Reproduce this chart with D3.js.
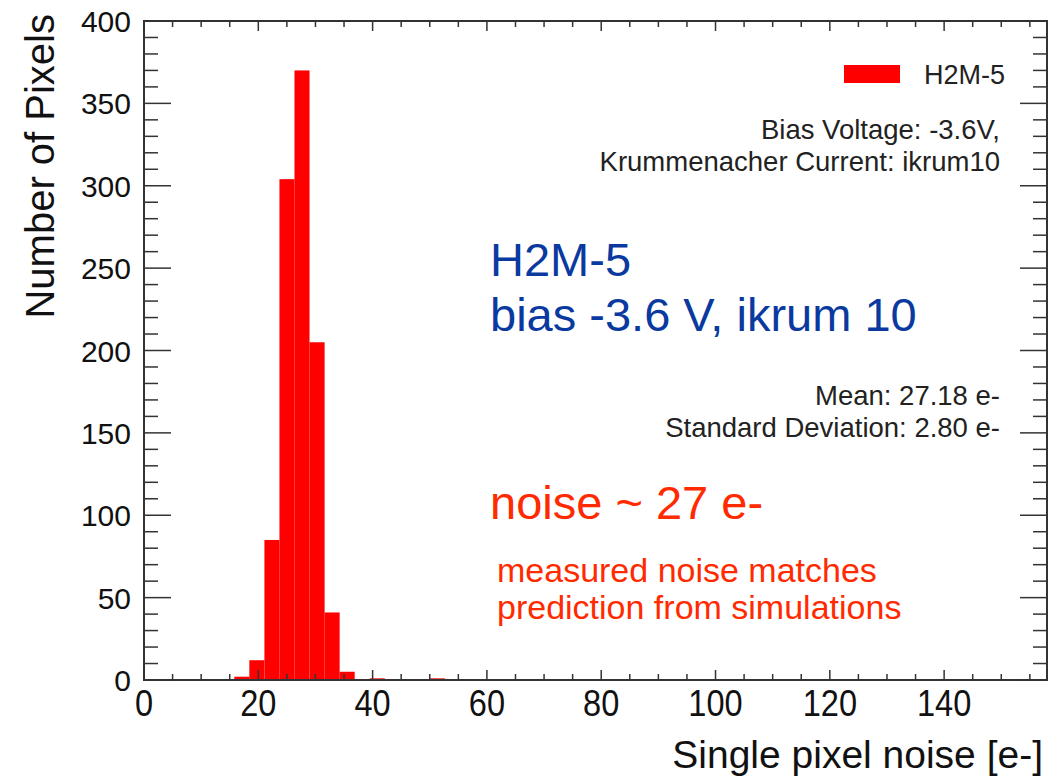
<!DOCTYPE html>
<html>
<head>
<meta charset="utf-8">
<script src="https://cdn.jsdelivr.net/npm/d3@7"></script>
<style>
  body { margin: 0; background: #fff; }
  text { font-family: "Liberation Sans", Arial, sans-serif; }
</style>
</head>
<body>
<script>
// histogram of single pixel noise, 60 bins over 0..158
var binLow = [15.8, 18.43, 21.07, 23.7, 26.33, 28.97, 31.6, 34.23, 39.5, 50.03];
var counts = [2, 12, 85, 304, 370, 205, 41, 5, 1, 1];
var binWidth = 2.633;
var xTicks = [0, 20, 40, 60, 80, 100, 120, 140];
var yTicks = [0, 50, 100, 150, 200, 250, 300, 350, 400];

var W = 1059, H = 779;
var x0 = 144, x1 = 1047, y0 = 680, y1 = 21;

var svg = d3.select("body").append("svg")
    .attr("width", W).attr("height", H);

var x = d3.scaleLinear().domain([0, 158]).range([x0, x1]);
var y = d3.scaleLinear().domain([0, 400]).range([y0, y1]);

// bars
svg.selectAll("rect.bar")
    .data(counts)
    .enter()
  .append("rect")
    .attr("class", "bar")
    .attr("x", function(d, i) { return x(binLow[i]); })
    .attr("y", function(d) { return y(d); })
    .attr("width", function(d, i) { return x(binLow[i] + binWidth) - x(binLow[i]); })
    .attr("height", function(d) { return y0 - y(d); })
    .attr("fill", "#ff0000");

var axisColor = "#333";

// frame
svg.append("rect")
    .attr("x", x0).attr("y", y1)
    .attr("width", x1 - x0).attr("height", y0 - y1)
    .attr("fill", "none").attr("stroke", axisColor).attr("stroke-width", 2);

// x ticks (bottom + top, inward)
var xMinor = d3.range(0, 158, 5);
xMinor.forEach(function(v) {
  var len = (v % 20 === 0) ? 10 : 6;
  svg.append("line").attr("x1", x(v)).attr("x2", x(v))
    .attr("y1", y0).attr("y2", y0 - len)
    .attr("stroke", axisColor).attr("stroke-width", 1.5);
  svg.append("line").attr("x1", x(v)).attr("x2", x(v))
    .attr("y1", y1).attr("y2", y1 + len)
    .attr("stroke", axisColor).attr("stroke-width", 1.5);
});

// y ticks (left + right, inward)
var yMinor = d3.range(0, 401, 10);
yMinor.forEach(function(v) {
  var len = (v % 50 === 0) ? 27 : 14;
  svg.append("line").attr("x1", x0).attr("x2", x0 + len)
    .attr("y1", y(v)).attr("y2", y(v))
    .attr("stroke", axisColor).attr("stroke-width", 1.5);
  svg.append("line").attr("x1", x1).attr("x2", x1 - len)
    .attr("y1", y(v)).attr("y2", y(v))
    .attr("stroke", axisColor).attr("stroke-width", 1.5);
});

// tick labels (x labels look a bit condensed in the original)
svg.selectAll("text.xt")
    .data(xTicks)
    .enter()
  .append("text")
    .attr("class", "xt")
    .attr("transform", function(d) { return "translate(" + x(d) + ",716) scale(0.88,1)"; })
    .attr("text-anchor", "middle")
    .attr("font-size", "37px")
    .attr("fill", "#111")
    .text(function(d) { return d; });

svg.selectAll("text.yt")
    .data(yTicks)
    .enter()
  .append("text")
    .attr("class", "yt")
    .attr("x", 131)
    .attr("y", function(d) { return y(d) + 11; })
    .attr("text-anchor", "end")
    .attr("font-size", "30px")
    .attr("fill", "#111")
    .text(function(d) { return d; });

// axis titles
svg.append("text")
    .attr("transform", "translate(54,14) rotate(-90)")
    .attr("text-anchor", "end")
    .attr("font-size", "40px")
    .attr("fill", "#111")
    .text("Number of Pixels");

svg.append("text")
    .attr("x", 1043).attr("y", 768)
    .attr("text-anchor", "end")
    .attr("font-size", "39px")
    .attr("fill", "#111")
    .text("Single pixel noise [e-]");

// legend
svg.append("rect")
    .attr("x", 844).attr("y", 65).attr("width", 56).attr("height", 18)
    .attr("fill", "#ff0000");
svg.append("text")
    .attr("x", 924).attr("y", 84)
    .attr("font-size", "27px").attr("fill", "#222")
    .text("H2M-5");

// info boxes
var info = [
  ["Bias Voltage: -3.6V,", 139],
  ["Krummenacher Current: ikrum10", 171],
  ["Mean: 27.18 e-", 405],
  ["Standard Deviation: 2.80 e-", 437]
];
svg.selectAll("text.info")
    .data(info)
    .enter()
  .append("text")
    .attr("class", "info")
    .attr("x", 1000)
    .attr("y", function(d) { return d[1]; })
    .attr("text-anchor", "end")
    .attr("font-size", "27.5px")
    .attr("fill", "#222")
    .text(function(d) { return d[0]; });

// annotations
svg.append("text").attr("x", 490).attr("y", 276)
    .attr("font-size", "47px").attr("fill", "#0a3aa0").text("H2M-5");
svg.append("text").attr("x", 490).attr("y", 331)
    .attr("font-size", "47px").attr("fill", "#0a3aa0").text("bias -3.6 V, ikrum 10");
svg.append("text").attr("x", 490).attr("y", 519)
    .attr("font-size", "47px").attr("fill", "#ff2a00").text("noise ~ 27 e-");
svg.append("text").attr("x", 497).attr("y", 582)
    .attr("font-size", "34px").attr("fill", "#ff2a00").text("measured noise matches");
svg.append("text").attr("x", 497).attr("y", 619)
    .attr("font-size", "34px").attr("fill", "#ff2a00").text("prediction from simulations");
</script>
</body>
</html>
